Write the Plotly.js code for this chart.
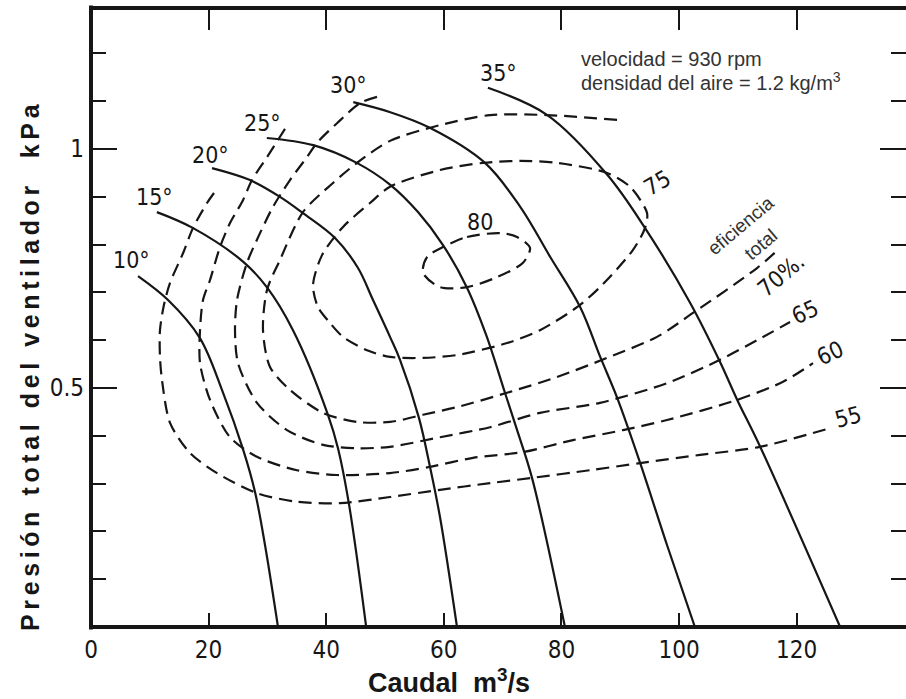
<!DOCTYPE html>
<html><head><meta charset="utf-8">
<script src="https://cdn.plot.ly/plotly-3.0.1.min.js"></script>
<style>html,body{margin:0;padding:0;background:#fff}#chart{width:906px;height:699px}</style>
</head><body><div id="chart"></div>
<script>
// ---- blade angle curves (Caudal m3/s, Presión kPa)
const angleNames = ['10°','15°','20°','25°','30°','35°'];
const a10x = [8.0,13.1,18.5,22.4,25.9,27.9,29.6,31.8];
const a10y = [0.734,0.684,0.605,0.492,0.370,0.282,0.171,0.0];
const a15x = [11.2,17.3,25.9,29.9,34.35,40.3,42.0,43.9,46.8];
const a15y = [0.868,0.835,0.764,0.711,0.621,0.444,0.374,0.255,0.0];
const a20x = [20.58,27.04,32.14,36.05,41.50,45.41,47.96,50.85,52.55,55.78,57.65,59.35,62.24];
const a20y = [0.960,0.935,0.900,0.866,0.814,0.751,0.684,0.607,0.559,0.437,0.335,0.230,0.0];
const a25x = [29.9,37.8,45.2,50.9,55.61,59.86,63.9,67.2,70.4,72.3,75.0,80.6];
const a25y = [1.023,1.008,0.971,0.925,0.868,0.799,0.711,0.611,0.490,0.418,0.312,0.0];
const a30x = [44.6,50.9,57.7,67.0,73.0,78.1,83.2,86.6,89.5,93.4,98.0,102.7];
const a30y = [1.098,1.077,1.044,0.971,0.879,0.774,0.669,0.565,0.479,0.343,0.170,0.0];
const a35x = [67.5,77.6,87.8,94.2,101.9,107.0,109.9,113.8,127.4];
const a35y = [1.128,1.071,0.946,0.835,0.678,0.554,0.475,0.377,0.0];

// ---- total efficiency contours (%)
const effNames = ['55','60','65','70','75','80'];
const e55x = [20.92,19.73,17.35,15.65,13.44,12.41,11.73,11.73,12.07,13.44,16.84,21.43,28.23,35.03,42.35,50.85,59.35,67.86,75.0,84.86,93.37,103.57,113.78,125.68];
const e55y = [0.908,0.887,0.835,0.782,0.720,0.674,0.621,0.565,0.517,0.427,0.364,0.322,0.280,0.262,0.259,0.272,0.287,0.301,0.312,0.328,0.343,0.360,0.377,0.416];
const e60x = [32.99,29.93,27.38,25.85,23.64,21.94,20.24,19.05,18.54,18.54,20.24,23.64,28.23,35.03,41.84,50.85,57.65,64.97,73.47,81.97,90.48,97.96,109.86,117.69,122.79];
const e60y = [1.042,0.983,0.935,0.893,0.845,0.795,0.726,0.684,0.621,0.552,0.475,0.397,0.356,0.328,0.318,0.322,0.335,0.354,0.366,0.391,0.412,0.433,0.475,0.513,0.552];
const e65x = [48.64,45.75,41.84,38.44,36.73,33.84,30.95,28.74,26.53,24.83,24.49,25.0,28.23,33.33,39.46,45.24,50.85,59.35,67.86,76.36,86.56,97.96,106.97,113.27,118.88];
const e65y = [1.109,1.096,1.054,1.013,0.983,0.935,0.879,0.824,0.762,0.684,0.621,0.552,0.469,0.412,0.381,0.374,0.377,0.397,0.418,0.448,0.469,0.510,0.559,0.600,0.638];
const e70x = [89.46,77.55,67.86,59.35,50.85,45.24,41.16,36.05,32.14,29.93,29.25,30.44,33.84,39.46,45.24,50.85,56.46,62.24,70.75,79.25,87.76,96.26,102.38,113.27,117.18];
const e70y = [1.061,1.071,1.071,1.050,1.017,0.971,0.929,0.868,0.768,0.705,0.621,0.544,0.496,0.448,0.429,0.429,0.444,0.460,0.490,0.523,0.563,0.607,0.657,0.751,0.793];
const e75x = [50.85,59.35,66.67,72.96,79.25,87.76,91.67,94.56,94.22,92.18,86.56,82.65,76.36,70.75,62.24,56.46,50.85,46.94,42.86,40.65,38.61,37.76,39.29,42.86,47.45,50.85];
const e75y = [0.921,0.956,0.971,0.975,0.971,0.950,0.921,0.866,0.835,0.789,0.711,0.669,0.621,0.594,0.569,0.563,0.565,0.579,0.607,0.636,0.669,0.715,0.778,0.837,0.887,0.921];
const e80x = [59.86,63.95,69.56,72.45,74.66,73.47,69.05,63.95,59.35,56.46,57.14,59.86];
const e80y = [0.795,0.816,0.824,0.816,0.793,0.762,0.732,0.711,0.711,0.741,0.774,0.795];

const xTicks = [0,20,40,60,80,100,120];
const yTickVals = [0.5,1];
const yTickText = ['0.5','1'];
const yMinor = [0.1,0.2,0.3,0.4,0.6,0.7,0.8,0.9,1.1,1.2];

const infoLines = ['velocidad = 930 rpm','densidad del aire = 1.2 kg/m<sup>3</sup>'];
const xTitle = 'Caudal\u00a0\u00a0m<sup>3</sup>/s';
const yTitle = 'Presión total del ventilador\u00a0\u00a0kPa';

// ---- styles
const INK = '#161616';
const NARROW = '"Liberation Sans Narrow","Arial Narrow","DejaVu Sans Condensed",sans-serif';
const SANS = '"Liberation Sans",Arial,Helvetica,sans-serif';

const angleSets = [[a10x,a10y],[a15x,a15y],[a20x,a20y],[a25x,a25y],[a30x,a30y],[a35x,a35y]];
const effSets = [[e55x,e55y],[e60x,e60y],[e65x,e65y],[e70x,e70y],[e75x,e75y],[e80x,e80y]];

const traces = [];
angleSets.forEach((s,i)=>traces.push({
  x:s[0], y:s[1], type:'scatter', mode:'lines', name:angleNames[i],
  line:{color:INK, width:2.2, shape:'spline', smoothing:1}, hoverinfo:'skip'
}));
effSets.forEach((s,i)=>traces.push({
  x:s[0], y:s[1], type:'scatter', mode:'lines', name:effNames[i]+' %',
  line:{color:INK, width:2.2, dash:'13px,7px', shape:'spline', smoothing:0.8}, hoverinfo:'skip'
}));
// invisible trace so the top axis (ticks only) is displayed
traces.push({x:[0], y:[0], xaxis:'x2', yaxis:'y', mode:'markers', marker:{opacity:0}, hoverinfo:'skip', showlegend:false});

// label placements
const angleLabelPos = [[6.97,0.768],[10.88,0.900],[20.24,0.987],[29.08,1.054],[43.71,1.134],[69.22,1.159]];
const ann = [];
angleNames.forEach((t,i)=>ann.push({x:angleLabelPos[i][0], y:angleLabelPos[i][1], text:t, showarrow:false,
  xanchor:'center', yanchor:'middle', font:{family:NARROW, size:23, color:INK}}));
const effLabels = [
  {t:'55', x:128.74, y:0.439, a:-15},
  {t:'60', x:125.68, y:0.573, a:-25},
  {t:'65', x:121.43, y:0.659, a:-25},
  {t:'70%.', x:117.35, y:0.736, a:-40},
  {t:'75', x:96.26, y:0.929, a:-30},
  {t:'80', x:66.16, y:0.847, a:0}
];
effLabels.forEach(l=>ann.push({x:l.x, y:l.y, text:l.t, textangle:l.a, showarrow:false,
  xanchor:'center', yanchor:'middle', font:{family:NARROW, size:23, color:INK}}));
ann.push({x:110.5, y:0.840, text:'eficiencia', textangle:-40, showarrow:false, xanchor:'center', yanchor:'middle',
  font:{family:SANS, size:19, color:'#333'}});
ann.push({x:113.9, y:0.800, text:'total', textangle:-40, showarrow:false, xanchor:'center', yanchor:'middle',
  font:{family:SANS, size:19, color:'#333'}});
ann.push({x:83.0, y:1.188, text:infoLines[0], showarrow:false, xanchor:'left', yanchor:'middle',
  font:{family:SANS, size:20, color:'#333'}});
ann.push({x:83.0, y:1.142, text:infoLines[1], showarrow:false, xanchor:'left', yanchor:'middle',
  font:{family:SANS, size:20, color:'#333'}});
ann.push({xref:'paper', yref:'paper', x:0.439, y:-0.087, text:xTitle, showarrow:false, xanchor:'center', yanchor:'middle',
  font:{family:SANS, size:27, color:INK, weight:'bold'}});
ann.push({xref:'paper', yref:'paper', x:-0.075, y:0.423, text:yTitle, textangle:-90, showarrow:false, xanchor:'center', yanchor:'middle',
  font:{family:SANS, size:25, color:INK, weight:'bold'}});

const layout = {
  width:906, height:699, margin:{l:91, r:0, t:8, b:72},
  paper_bgcolor:'#fff', plot_bgcolor:'#fff', showlegend:false,
  xaxis:{range:[0,138.6], tickvals:xTicks, ticks:'inside', ticklen:14, tickwidth:2, tickcolor:INK,
    showgrid:false, zeroline:false, showline:false, ticklabelstandoff:6,
    tickfont:{family:NARROW, size:24, color:INK}},
  xaxis2:{overlaying:'x', side:'top', matches:'x', range:[0,138.6], tickvals:xTicks, ticks:'inside', ticklen:22, tickwidth:2,
    tickcolor:INK, showticklabels:false, showgrid:false, zeroline:false, showline:false},
  yaxis:{range:[0,1.295], tickvals:yTickVals, ticktext:yTickText, ticks:'inside', ticklen:26, tickwidth:2, tickcolor:INK,
    mirror:'ticks', showgrid:false, zeroline:false, showline:false, ticklabelstandoff:6,
    tickfont:{family:NARROW, size:24, color:INK},
    minor:{tickvals:yMinor, ticks:'inside', ticklen:15, tickwidth:2, tickcolor:INK, showgrid:false}},
  shapes:[
    {type:'line', xref:'paper', yref:'paper', x0:0, x1:0, y0:-0.004, y1:1.004, line:{color:INK, width:4}},
    {type:'line', xref:'paper', yref:'paper', x0:0, x1:1, y0:0, y1:0, line:{color:INK, width:4}},
    {type:'line', xref:'paper', yref:'paper', x0:0, x1:1, y0:1, y1:1, line:{color:INK, width:4}}
  ],
  annotations:ann
};

Plotly.newPlot('chart', traces, layout, {displayModeBar:false, staticPlot:true}).then(()=>{
  document.querySelectorAll('.annotation text').forEach(t=>{
    if (t.textContent.indexOf('Presión')===0) { t.style.letterSpacing='4.6px'; }
  });
});
</script></body></html>
